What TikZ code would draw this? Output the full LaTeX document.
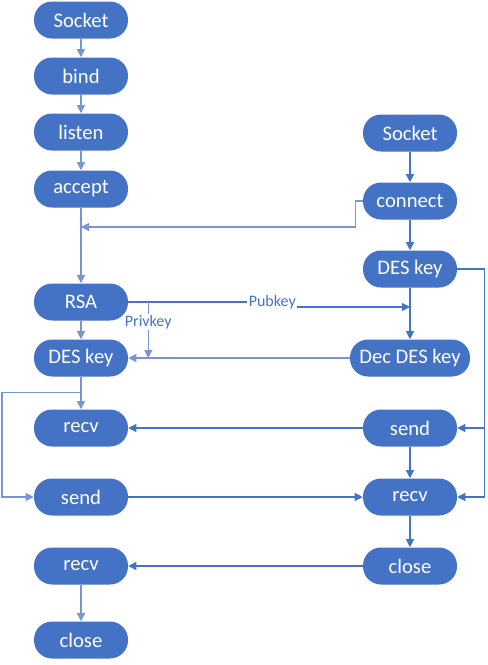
\documentclass[tikz,border=0pt]{standalone}
\usepackage{fontspec}
\setmainfont{Carlito}
\usepackage{xcolor}
\usetikzlibrary{positioning,calc,arrows.meta}
\definecolor{boxblue}{RGB}{68,114,196}
\definecolor{lineblue}{RGB}{68,114,196}
\definecolor{paleblue}{RGB}{118,149,210}

\begin{document}
\begin{tikzpicture}[
    node distance=42pt, on grid,
    box/.style={rectangle, fill=boxblue, text=white, rounded corners=13.5pt, minimum height=27.75pt, minimum width=70.5pt, align=center, font=\fontsize{15.5}{18}\selectfont},
    arrow/.style={-{Triangle[length=6pt,width=6pt]}},
    dline/.style={draw=lineblue, line width=0.8pt},
    lline/.style={draw=paleblue, line width=0.8pt},
    lbl/.style={fill=white, text=lineblue, inner sep=1pt, font=\fontsize{12}{14}\selectfont}
]
\useasboundingbox (0,0) rectangle (365.25pt,-498.75pt);

% server side
\node[box] (socketL) at (60.75pt,-15pt) {Socket};
\node[box, below=of socketL] (bind) {bind};
\node[box, below=of bind] (listen) {listen};
\node[box, below=42.75pt of listen] (accept) {accept};
\node[box, below=84.75pt of accept] (rsa) {RSA};
\node[box, below=of rsa] (desL) {DES key};
\node[box, below=52.5pt of desL] (recvL) {recv};
\node[box, below=51.75pt of recvL] (sendL) {send};
\node[box, below=51.75pt of sendL] (recv2L) {recv};
\node[box, below=55.5pt of recv2L] (closeL) {close};

% client side
\node[box, right=246.75pt of listen, yshift=-0.75pt] (socketR) {Socket};
\node[box, below=51pt of socketR] (connect) {connect};
\node[box, below=51pt of connect] (desR) {DES key};
\node[box, right=246.75pt of desL, minimum width=90pt] (decdes) {Dec DES key};
\node[box, right=246.75pt of recvL] (sendR) {send};
\node[box, right=246.75pt of sendL] (recvR) {recv};
\node[box, right=246.75pt of recv2L] (closeR) {close};

\coordinate (join) at (accept.south |- 0,-170.25pt);
\coordinate (pkend) at (desR.south |- 0,-230.25pt);
\coordinate (priv) at ($(rsa.east)+(15pt,0)$);
\coordinate (brL) at ($(desL.south)+(0,-11.5pt)$);

\foreach \a/\b in {socketL/bind, bind/listen, listen/accept, accept/rsa, rsa/desL, desL/recvL, recv2L/closeL}
    \draw[lline, arrow] (\a) -- (\b);
\foreach \a/\b in {socketR/connect, connect/desR, desR/decdes, sendR/recvR, recvR/closeR}
    \draw[dline, arrow] (\a) -- (\b);

\draw[lline, arrow] (connect.west) -- ++(-5.25pt,0) |- (join);
\draw[dline, arrow] (rsa.east) -- ++(108pt,0) node[lbl] {Pubkey} |- (pkend);
\draw[lline, arrow] (priv) -- (priv |- desL.east) node[lbl, pos=0.36] {Privkey};
\draw[lline, arrow] (decdes.west) -- (desL.east);
\draw[dline, arrow] (desR.east) -- ++(20.25pt,0) |- (sendR.east);
\draw[dline, arrow] (desR.east) -- ++(20.25pt,0) |- (recvR.east);
\draw[lline, arrow] (brL) -- ++(-59.25pt,0) |- (sendL.west);
\draw[dline, arrow] (sendR.west) -- (recvL.east);
\draw[dline, arrow] (sendL.east) -- (recvR.west);
\draw[dline, arrow] (closeR.west) -- (recv2L.east);
\end{tikzpicture}
\end{document}
